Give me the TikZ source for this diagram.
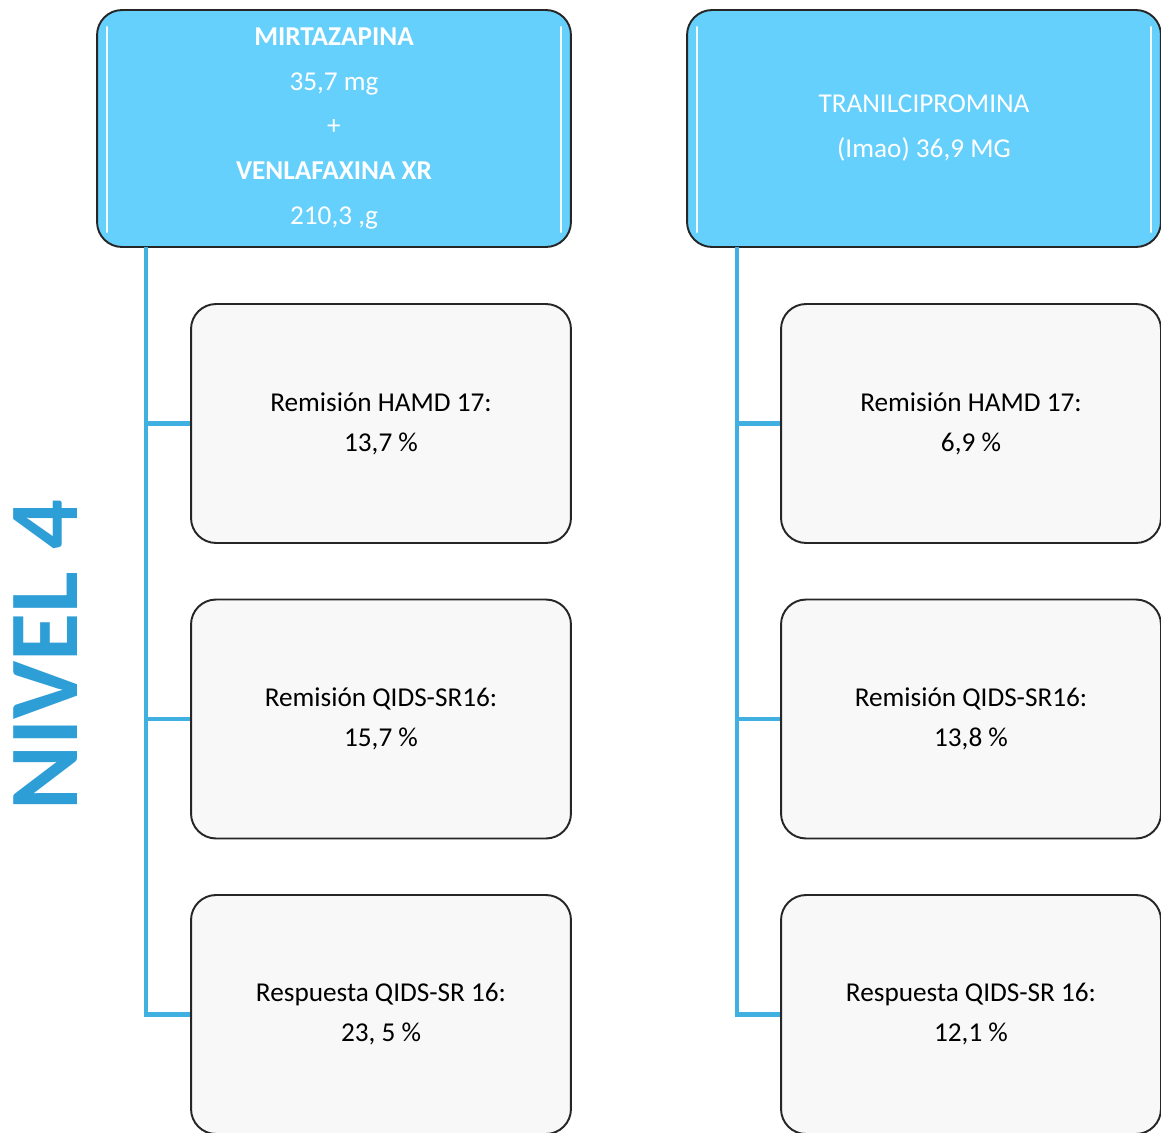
\documentclass[tikz,border=0pt]{standalone}
\usepackage{fontspec}
\setmainfont{Carlito}
\definecolor{cajaazul}{RGB}{102,208,252}
\definecolor{lineaazul}{RGB}{64,176,224}
\definecolor{nivelazul}{RGB}{46,158,214}
\definecolor{cajagris}{RGB}{248,248,248}
\tikzset{
  farmaco/.style={draw=black!85, line width=1.1pt, fill=cajaazul, rounded corners=0.5cm,
    minimum width=9.48cm, minimum height=4.74cm, align=center, text=white,
    font=\fontsize{15.5}{25.6}\selectfont},
  dato/.style={draw=black!85, line width=1.1pt, fill=cajagris, rounded corners=0.5cm,
    minimum width=7.6cm, minimum height=4.78cm, align=center,
    font=\fontsize{15.5}{22.8}\selectfont},
  rama/.style={draw=lineaazul, line width=2.8pt},
  brillo/.style={draw=white, line width=1.4pt, line cap=round, opacity=0.9}
}
\begin{document}
\begin{tikzpicture}[x=0.02cm, y=-0.02cm]
    \useasboundingbox[fill=white] (0,0) rectangle (1161,1133);
    \begin{scope}
      \node[rotate=90, text=nivelazul, font=\fontsize{56}{60}\bfseries\selectfont] (nivel) at (46,655) {NIVEL 4};

      % columna izquierda
      \node[farmaco] (mirta) at (334,128.5) {\textbf{MIRTAZAPINA}\\35,7 mg\\+\\\textbf{VENLAFAXINA XR}\\210,3 ,g};
      \draw[brillo] ([shift={(11,18)}]mirta.north west) -- ([shift={(11,-16)}]mirta.south west);
      \draw[brillo] ([shift={(-11,18)}]mirta.north east) -- ([shift={(-11,-16)}]mirta.south east);
      \node[dato] (hamdL) at (381,423.5) {Remisión HAMD 17:\\13,7 \%};
      \node[dato] (qidsL) at (381,719) {Remisión QIDS-SR16:\\15,7 \%};
      \node[dato] (respL) at (381,1014.5) {Respuesta QIDS-SR 16:\\23, 5 \%};
      \coordinate (troncoL) at (146,247);
      \draw[rama] (troncoL) |- (hamdL.west);
      \draw[rama] (troncoL) |- (qidsL.west);
      \draw[rama] (troncoL) |- (respL.west);

      % columna derecha
      \node[farmaco] (trani) at (924,128.5) {TRANILCIPROMINA\\(Imao) 36,9 MG};
      \draw[brillo] ([shift={(11,18)}]trani.north west) -- ([shift={(11,-16)}]trani.south west);
      \draw[brillo] ([shift={(-11,18)}]trani.north east) -- ([shift={(-11,-16)}]trani.south east);
      \node[dato] (hamdR) at (971,423.5) {Remisión HAMD 17:\\6,9 \%};
      \node[dato] (qidsR) at (971,719) {Remisión QIDS-SR16:\\13,8 \%};
      \node[dato] (respR) at (971,1014.5) {Respuesta QIDS-SR 16:\\12,1 \%};
      \coordinate (troncoR) at (737,247);
      \draw[rama] (troncoR) |- (hamdR.west);
      \draw[rama] (troncoR) |- (qidsR.west);
      \draw[rama] (troncoR) |- (respR.west);
    \end{scope}
\end{tikzpicture}
\end{document}
